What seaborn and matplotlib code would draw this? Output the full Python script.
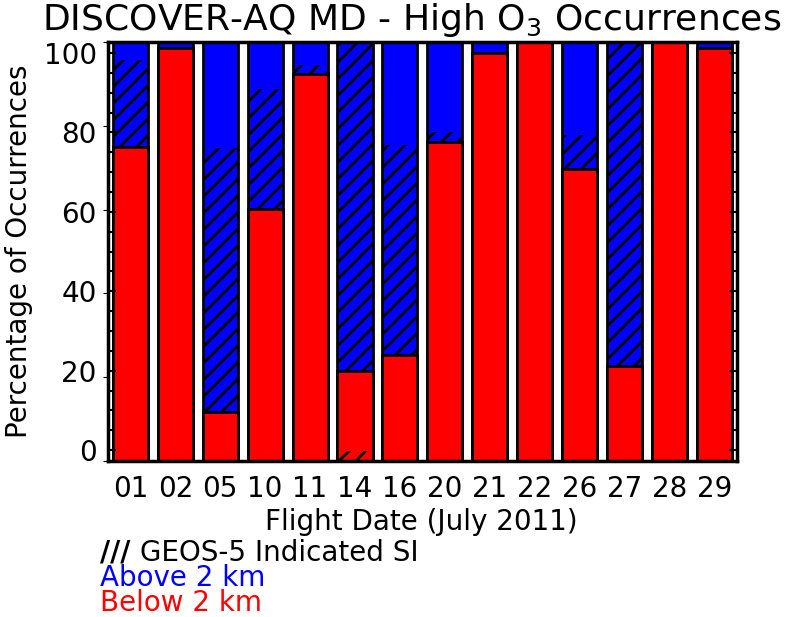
import numpy as np
import matplotlib
matplotlib.use("Agg")
import matplotlib.pyplot as plt
import seaborn as sns

# flight dates (July 2011)
dates = ["01", "02", "05", "10", "11", "14", "16", "20", "21", "22", "26", "27", "28", "29"]

# percentage of high O3 occurrences below / above 2 km
below = [75.0, 98.7, 11.8, 60.1, 92.3, 21.5, 25.3, 76.2, 97.5, 100.0, 69.6, 22.7, 100.0, 98.5]
above = [25.0, 1.3, 88.2, 39.9, 7.7, 78.5, 74.7, 23.8, 2.5, 0.0, 30.4, 77.3, 0.0, 1.5]

# part of each layer where GEOS-5 indicated SI (hatched)
si_below = [0, 0, 0, 0, 0, 2.5, 0, 0, 0, 0, 0, 0, 0, 0]
si_above = [20.7, 0, 62.8, 28.8, 2.2, 78.5, 50.1, 2.4, 0, 0, 8.2, 77.3, 0, 0]

sns.set_style("white")
plt.rcParams["font.family"] = ["DejaVu Sans"]
plt.rcParams["hatch.linewidth"] = 2.0
for k in ["text.color", "axes.labelcolor", "xtick.color", "ytick.color"]:
    plt.rcParams[k] = "black"

total = [b + a for b, a in zip(below, above)]
x = np.arange(len(dates))
bar_w = 0.78

fig = plt.figure(figsize=(7.88, 6.17), dpi=100)
ax = fig.add_axes([0.137, 0.2528, 0.798, 0.679])

# stacked bars: full column in blue, lower part in red
sns.barplot(x=dates, y=total, color="#0000ff", saturation=1, width=bar_w,
            edgecolor="black", linewidth=2, ax=ax)
sns.barplot(x=dates, y=below, color="#ff0000", saturation=1, width=bar_w,
            edgecolor="black", linewidth=2, ax=ax)

# hatched overlay for GEOS-5 indicated SI
ax.bar(x, si_below, bottom=0, width=bar_w, facecolor="none",
       edgecolor="black", linewidth=0, hatch="//")
ax.bar(x, si_above, bottom=below, width=bar_w, facecolor="none",
       edgecolor="black", linewidth=0, hatch="//")

ax.set_xlim(-0.5, len(dates) - 0.5)
ax.set_ylim(0, 100)
ax.set_xlabel("")
ax.set_ylabel("")
ax.tick_params(axis="x", length=0, labelsize=20, pad=10)
ax.tick_params(axis="y", left=False, right=False, labelleft=False)
for s in ax.spines.values():
    s.set_linewidth(2.5)
    s.set_color("black")

# axis with labelled ticks (range slightly wider than bars)
ax2 = ax.twinx()
ax2.set_ylim(-2.75, 102.75)
ax2.set_yticks(np.arange(0, 101, 20))
ax2.set_yticks(np.arange(0, 101, 5), minor=True)
ax2.yaxis.set_ticks_position("both")
ax2.yaxis.set_label_position("left")
ax2.tick_params(axis="y", which="major", direction="in", length=6, width=1.5,
                labelleft=True, labelright=False, labelsize=20, pad=8)
ax2.tick_params(axis="y", which="minor", direction="in", length=4, width=1.5)
ax2.set_ylabel("Percentage of Occurrences", fontsize=20, labelpad=8)
for s in ax2.spines.values():
    s.set_visible(False)

fig.text(0.522, 0.968, "DISCOVER-AQ MD - High O$_3$ Occurrences",
         ha="center", va="center", fontsize=26)
fig.text(0.535, 0.154, "Flight Date (July 2011)", ha="center", va="center", fontsize=20)

fig.text(0.127, 0.104, "///", ha="left", va="center", fontsize=20, fontweight="bold")
fig.text(0.178, 0.104, "GEOS-5 Indicated SI", ha="left", va="center", fontsize=20)
fig.text(0.127, 0.063, "Above 2 km", ha="left", va="center", fontsize=20, color="#0000ff")
fig.text(0.127, 0.022, "Below 2 km", ha="left", va="center", fontsize=20, color="#ff0000")

fig.savefig("out.png", dpi=100)
